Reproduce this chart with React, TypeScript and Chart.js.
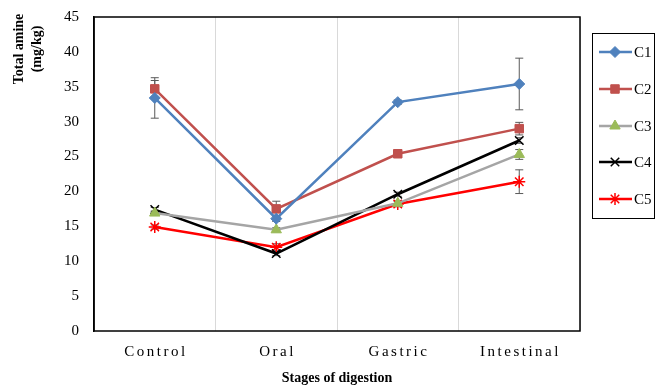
import React, { useEffect, useRef } from "react";
import { Chart, registerables } from "chart.js";
import { drawPoint } from "chart.js/helpers";

Chart.register(...registerables);

const categories = ["Control", "Oral", "Gastric", "Intestinal"];
const seriesNames = ["C1", "C2", "C3", "C4", "C5"];
const c1 = [33.4, 16.1, 32.8, 35.4];
const c2 = [34.7, 17.5, 25.4, 29.0];
const c3 = [16.9, 14.5, 18.3, 25.3];
const c4 = [17.4, 11.1, 19.6, 27.3];
const c5 = [14.9, 12.0, 18.2, 21.4];
const e1 = [2.9, 0.4, 0.3, 3.7];
const e2 = [1.2, 1.1, 0.3, 0.9];
const e3 = [0.3, 0.3, 0.3, 0.7];
const e4 = [0.3, 0.3, 0.3, 0.4];
const e5 = [0.3, 0.5, 0.4, 1.7];
const yTicks = [0, 5, 10, 15, 20, 25, 30, 35, 40, 45];

const values = [c1, c2, c3, c4, c5];
const errors = [e1, e2, e3, e4, e5];
const lineColors = ["#4f81bd", "#c0504d", "#a5a5a5", "#000000", "#ff0000"];
const markerFill = ["#4f81bd", "#c0504d", "#9bbb59", "#000000", "#ff0000"];
const markerStyles = ["rectRot", "rect", "triangle", "crossRot", "star"];
const markerRadius = [5.5, 6, 6, 6, 6];

const SERIF = "'Liberation Serif', 'Times New Roman', serif";

const customPlugin = {
  id: "custom",
  beforeDatasetsDraw(chart: any) {
    const ctx = chart.ctx;
    const x = chart.scales.x;
    const y = chart.scales.y;
    ctx.save();
    ctx.strokeStyle = "#595959";
    ctx.lineWidth = 1;
    errors.forEach((errs, si) => {
      errs.forEach((e, i) => {
        const v = values[si][i];
        const px = x.getPixelForValue(i);
        const top = y.getPixelForValue(v + e);
        const bot = y.getPixelForValue(v - e);
        ctx.beginPath();
        ctx.moveTo(px, top);
        ctx.lineTo(px, bot);
        ctx.moveTo(px - 4, top);
        ctx.lineTo(px + 4, top);
        ctx.moveTo(px - 4, bot);
        ctx.lineTo(px + 4, bot);
        ctx.stroke();
      });
    });
    ctx.restore();
  },
  afterDraw(chart: any) {
    const ctx = chart.ctx;
    const a = chart.chartArea;
    const x = chart.scales.x;
    ctx.save();
    // plot border
    ctx.strokeStyle = "#000";
    ctx.lineWidth = 1.5;
    ctx.strokeRect(a.left, a.top, a.right - a.left, a.bottom - a.top);

    // x labels with letter spacing
    ctx.fillStyle = "#000";
    ctx.font = `15px ${SERIF}`;
    ctx.textAlign = "center";
    ctx.textBaseline = "middle";
    const sp = 2.5;
    (ctx as any).letterSpacing = sp + "px";
    categories.forEach((c, i) => {
      ctx.fillText(c, x.getPixelForValue(i) + sp / 2, 352);
    });
    (ctx as any).letterSpacing = "0px";

    // x title
    ctx.font = `bold 14px ${SERIF}`;
    ctx.fillText("Stages of digestion", (a.left + a.right) / 2, 378);

    // y title
    ctx.save();
    ctx.translate(19, 49);
    ctx.rotate(-Math.PI / 2);
    ctx.fillText("Total amine", 0, 0);
    ctx.fillText("(mg/kg)", 0, 18);
    ctx.restore();

    // legend
    ctx.lineWidth = 1;
    ctx.strokeStyle = "#000";
    ctx.strokeRect(592.5, 33.5, 62, 185);
    const ys = [52, 89, 126, 162, 199];
    chart.data.datasets.forEach((ds: any, i: number) => {
      const ly = ys[i];
      ctx.strokeStyle = ds.borderColor;
      ctx.lineWidth = 2.5;
      ctx.beginPath();
      ctx.moveTo(599, ly);
      ctx.lineTo(632, ly);
      ctx.stroke();
      ctx.fillStyle = ds.pointBackgroundColor;
      ctx.strokeStyle = ds.pointBorderColor;
      ctx.lineWidth = ds.pointBorderWidth;
      drawPoint(ctx, { pointStyle: ds.pointStyle, radius: ds.pointRadius, borderWidth: ds.pointBorderWidth, rotation: 0 } as any, 615, ly);
      ctx.fillStyle = "#000";
      ctx.font = `15px ${SERIF}`;
      ctx.textAlign = "left";
      ctx.textBaseline = "middle";
      ctx.fillText(ds.label, 634, ly + 1);
    });
    ctx.restore();
  },
};

export default function App() {
  const ref = useRef<HTMLCanvasElement | null>(null);
  useEffect(() => {
    if (!ref.current) return;
    const datasets = seriesNames.map((name, i) => ({
      label: name,
      data: values[i],
      borderColor: lineColors[i],
      backgroundColor: markerFill[i],
      borderWidth: 2.5,
      pointStyle: markerStyles[i],
      pointRadius: markerRadius[i],
      pointBackgroundColor: markerFill[i],
      pointBorderColor: i >= 3 ? lineColors[i] : markerFill[i],
      pointBorderWidth: i >= 3 ? 1.5 : 1,
      tension: 0,
    }));
    const chart = new Chart(ref.current, {
      type: "line",
      data: { labels: categories, datasets },
      options: {
        animation: false,
        responsive: false,
        devicePixelRatio: 1,
        layout: { padding: { top: 17, right: 76, left: 0, bottom: 0 } },
        plugins: { legend: { display: false }, tooltip: { enabled: false } },
        scales: {
          x: {
            offset: true,
            grid: { display: true, offset: true, color: "#d9d9d9", lineWidth: 1, drawTicks: false },
            border: { display: false },
            ticks: { display: false },
            afterFit(s: any) {
              s.height = 55;
              s.paddingLeft = 0;
              s.paddingRight = 0;
            },
          },
          y: {
            min: 0,
            max: 45,
            afterBuildTicks(s: any) {
              s.ticks = yTicks.map((v) => ({ value: v }));
            },
            grid: { display: false, drawTicks: false },
            border: { display: true, color: "#000", width: 1.5 },
            ticks: {
              color: "#000",
              padding: 15,
              font: { family: SERIF, size: 15 },
            },
            afterFit(s: any) {
              s.width = 94;
              s.paddingTop = 0;
              s.paddingBottom = 0;
            },
          },
        },
      },
      plugins: [customPlugin],
    });
    return () => chart.destroy();
  }, []);
  return (
    <div style={{ position: "absolute", left: 0, top: 0, width: 656, height: 386, background: "#fff" }}>
      <canvas ref={ref} width={656} height={386} style={{ display: "block" }} />
    </div>
  );
}
